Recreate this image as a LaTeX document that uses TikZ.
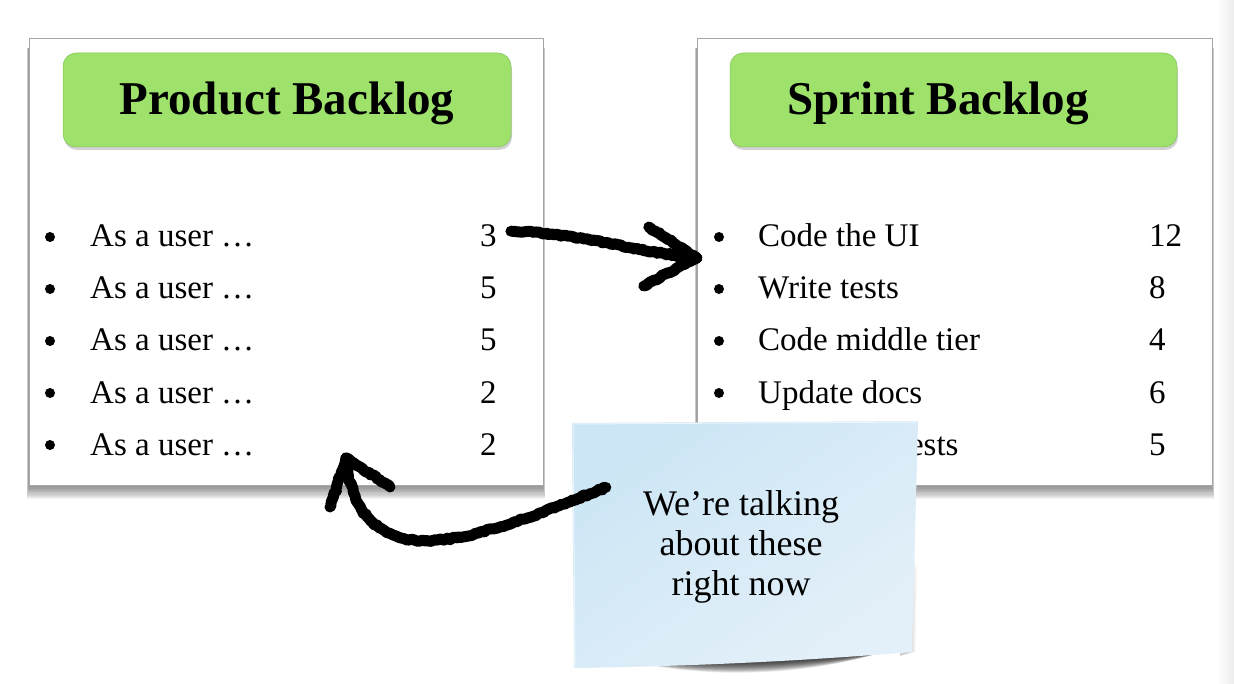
\documentclass[tikz,border=0pt]{standalone}
\usepackage{fontspec}
\setmainfont{Liberation Serif}
\usetikzlibrary{decorations.pathmorphing,calc}

\definecolor{hdrgreen}{HTML}{9EE26B}
\definecolor{noteblue}{HTML}{CCE6F5}
\definecolor{notelight}{HTML}{E4F0F9}

% soft drop shadow under a card: layered translucent rectangles
\newcommand{\cardshadow}[4]{%
  \foreach \k in {1,...,12}{%
    \fill[black, opacity=0.045] (#1-\k*0.2, #2+10) rectangle (#3+\k*0.2, #4+\k*1.2);
  }%
}

\begin{document}
\begin{tikzpicture}[x=1pt, y=-1pt,
  card/.style={draw=black!35, line width=0.8pt, fill=white},
  header/.style={fill=hdrgreen, rounded corners=13pt, draw=hdrgreen!85!black, line width=0.5pt},
  title/.style={font=\fontsize{47}{52}\selectfont\bfseries, anchor=base, inner sep=0pt},
  item/.style={font=\fontsize{33}{38}\selectfont, anchor=base west, inner sep=0pt},
  dot/.style={circle, fill=black, inner sep=0pt, minimum size=10pt},
  notetext/.style={font=\fontsize{36}{40}\selectfont, align=center, inner sep=0pt},
  brush/.style={draw=black, line width=11pt, line cap=round, line join=round,
    decorate, decoration={random steps, segment length=2.5pt, amplitude=1pt}},
  brushfray/.style={draw=black, line width=3pt, line cap=round, line join=round,
    decorate, decoration={random steps, segment length=2pt, amplitude=3.5pt}},
]
\pgfmathsetseed{11}
\useasboundingbox (0,0) rectangle (1234,684);
\fill[white] (0,0) rectangle (1234,684);
% faint shading along the right edge
\shade[left color=white, right color=black!7] (1216,0) rectangle (1234,684);

% ---------- cards ----------
\cardshadow{29}{38}{543}{485}
\cardshadow{697}{38}{1212}{485}
\node[card, minimum width=514pt, minimum height=447pt, anchor=north west, inner sep=0pt] (pcard) at (29,38) {};
\node[card, minimum width=515pt, minimum height=447pt, anchor=north west, inner sep=0pt] (scard) at (697,38) {};

% ---------- green headers ----------
\fill[black, opacity=0.18, rounded corners=13pt] (64,57) rectangle (512,150);
\fill[black, opacity=0.18, rounded corners=13pt] (731,57) rectangle (1178,150);
\draw[header] (63,53) rectangle (511,147);
\draw[header] (730,53) rectangle (1177,147);
\node[title] (ptitle) at (287,115) {Product Backlog};
\node[title] (stitle) at (938,115) {Sprint Backlog};

% ---------- product backlog items ----------
\foreach \i/\n in {0/3,1/5,2/5,3/2,4/2}{
  \node[dot] (pb\i) at (50,237+52*\i) {};
  \node[item] (pt\i) at (90,247+52*\i) {As a user …};
  \node[item] (pn\i) at (480,247+52*\i) {\n};
}

% ---------- sprint backlog items ----------
\foreach \i/\t/\n in {0/Code the UI/12,1/Write tests/8,2/Code middle tier/4,3/Update docs/6,4/Write unit tests/5}{
  \node[dot] (sb\i) at (719,237+52*\i) {};
  \node[item] (st\i) at (758,247+52*\i) {\t};
  \node[item] (sn\i) at (1149,247+52*\i) {\n};
}

% ---------- sticky note ----------
\foreach \k in {1,...,14}{
  \fill[black, opacity=0.08] (592+\k*1.2,655) .. controls (700,668+\k*1.1) and (820,664+\k*0.8) .. (910-\k*1.2,648) -- cycle;
}
\foreach \k in {1,...,8}{
  \fill[black, opacity=0.025] (906,520+\k*4) -- (910+\k*0.9,540+\k*4) -- (910+\k*0.7,652) -- (900,656) -- cycle;
}
\shade[top color=noteblue, middle color=noteblue, bottom color=notelight, shading angle=35]
  (572,423) -- (918,421) -- (912,652) .. controls (800,661) and (700,666) .. (574,668) -- cycle;
\draw[white, opacity=0.6, line width=1pt] (573,424) -- (917,422);
\draw[white, opacity=0.6, line width=1pt] (573,424) -- (575,667);
\node[notetext] (note) at (741,547) {We’re talking\\about these\\right now};

% ---------- hand-drawn arrows ----------
% product item -> sprint backlog
\coordinate (a1s) at ($(pn0.east)+(14,-5)$);
\coordinate (a1e) at ($(sb0.west)+(-17,21)$);
\draw[brush] (a1s) .. controls ($(a1s)+(70,2)$) and ($(a1e)+(-70,-8)$) .. (a1e);
\draw[brushfray] (a1s) .. controls ($(a1s)+(70,2)$) and ($(a1e)+(-70,-8)$) .. (a1e);
\draw[brush] (a1e) -- ($(a1e)+(-48,-31)$);
\draw[brush] (a1e) -- ($(a1e)+(-53,28)$);
\draw[brushfray] (a1e) -- ($(a1e)+(-48,-31)$);
\draw[brushfray] (a1e) -- ($(a1e)+(-53,28)$);

% sticky note -> product backlog
\coordinate (a2s) at ($(note.north west)+(-37,-3)$);
\coordinate (a2e) at (346,458);
\draw[brush] (a2s) .. controls ($(a2s)+(-80,32)$) and (445,552) .. (398,537)
  .. controls (362,525) and (350,495) .. (a2e);
\draw[brushfray] (a2s) .. controls ($(a2s)+(-80,32)$) and (445,552) .. (398,537)
  .. controls (362,525) and (350,495) .. (a2e);
\draw[brush] (a2e) -- ($(a2e)+(-16,49)$);
\draw[brush] (a2e) -- ($(a2e)+(44,29)$);
\draw[brushfray] (a2e) -- ($(a2e)+(-16,49)$);
\draw[brushfray] (a2e) -- ($(a2e)+(44,29)$);
\end{tikzpicture}
\end{document}
